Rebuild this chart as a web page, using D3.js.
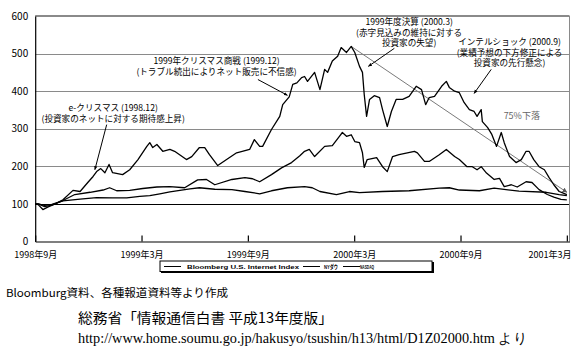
<!DOCTYPE html>
<html><head><meta charset="utf-8">
<script src="https://cdn.jsdelivr.net/npm/d3@7"></script>
<style>
html,body{margin:0;padding:0;background:#fff;}
svg{display:block;font-family:"Noto Sans CJK JP","Noto Sans",sans-serif;}
</style></head>
<body>
<svg id="chart" width="586" height="355"></svg>
<script>
// ---- data ----
const seriesNames = ["Bloomberg U.S. Internet Index", "NYダウ", "NASDAQ"];
const xTickLabels = ["1998年9月","1999年3月","1999年9月","2000年3月","2000年9月","2001年3月"];
const yTicks = [0,100,200,300,400,500,600];

const internetIndex = [
 ["1998-09-01",100],["1998-09-06",98],["1998-09-14",85],["1998-09-23",92],["1998-10-05",100],["1998-10-18",111],
 ["1998-11-05",136],["1998-11-17",133],["1998-11-30",157],["1998-12-09",173],["1998-12-15",186],["1998-12-22",194],
 ["1998-12-29",183],["1999-01-06",205],["1999-01-12",183],["1999-01-29",178],["1999-02-11",191],["1999-02-25",218],
 ["1999-03-10",253],["1999-03-15",263],["1999-03-20",250],["1999-03-27",258],["1999-04-07",240],["1999-04-19",245],
 ["1999-04-27",240],["1999-05-17",218],["1999-05-26",226],["1999-06-09",250],["1999-06-18",250],["1999-06-26",231],
 ["1999-07-10",202],["1999-07-25",218],["1999-08-12",236],["1999-09-04",245],["1999-09-12",271],["1999-09-21",253],
 ["1999-09-26",253],["1999-10-11",298],["1999-10-25",333],["1999-10-30",364],["1999-11-11",385],["1999-11-17",418],
 ["1999-11-24",422],["1999-12-02",436],["1999-12-07",439],["1999-12-12",426],["1999-12-24",450],["2000-01-03",404],
 ["2000-01-11",458],["2000-01-16",450],["2000-01-24",480],["2000-02-03",493],["2000-02-09",516],["2000-02-18",503],
 ["2000-02-26",519],["2000-03-02",503],["2000-03-10",466],["2000-03-15",450],["2000-03-18",391],["2000-03-22",333],
 ["2000-03-27",378],["2000-04-05",388],["2000-04-14",383],["2000-04-19",351],["2000-04-27",306],["2000-05-04",346],
 ["2000-05-12",378],["2000-05-23",378],["2000-06-04",386],["2000-06-16",413],["2000-06-25",404],["2000-07-02",364],
 ["2000-07-08",383],["2000-07-17",386],["2000-07-29",413],["2000-08-07",426],["2000-08-12",410],["2000-08-21",400],
 ["2000-08-29",396],["2000-09-07",370],["2000-09-16",351],["2000-09-24",346],["2000-09-29",333],["2000-10-06",351],
 ["2000-10-08",319],["2000-10-17",303],["2000-10-24",285],["2000-11-02",253],["2000-11-10",290],["2000-11-15",263],
 ["2000-11-24",226],["2000-12-05",210],["2000-12-14",218],["2000-12-22",240],["2000-12-27",240],["2001-01-05",218],
 ["2001-01-14",199],["2001-01-23",191],["2001-02-01",170],["2001-02-09",151],["2001-02-18",133],["2001-02-23",130],
 ["2001-03-01",125]
];

const nyDow = [
 ["1998-09-01",100],["1998-09-06",100],["1998-09-17",96],["1998-09-29",99],["1998-10-18",108],["1998-11-17",113],
 ["1998-12-15",117],["1999-01-12",116],["1999-02-06",116],["1999-02-28",120],["1999-03-15",122],["1999-04-02",127],
 ["1999-04-19",132],["1999-05-06",136],["1999-05-23",140],["1999-06-09",143],["1999-07-05",139],["1999-08-04",138],
 ["1999-08-26",133],["1999-09-21",127],["1999-10-11",135],["1999-11-08",143],["1999-12-07",146],["1999-12-20",143],
 ["2000-01-03",133],["2000-02-01",125],["2000-02-23",133],["2000-03-10",130],["2000-04-19",133],["2000-06-04",135],
 ["2000-07-25",142],["2000-08-12",143],["2000-08-29",137],["2000-10-03",135],["2000-10-28",142],["2000-12-10",134],
 ["2001-01-26",131],["2001-02-18",125],["2001-03-01",122]
];

const nasdaq = [
 ["1998-09-01",100],["1998-09-06",100],["1998-09-17",93],["1998-09-29",97],["1998-10-18",109],["1998-11-08",125],
 ["1998-12-04",131],["1998-12-26",137],["1999-01-07",143],["1999-01-19",135],["1999-02-11",136],["1999-03-03",141],
 ["1999-03-27",145],["1999-04-19",146],["1999-05-14",143],["1999-06-06",164],["1999-06-21",165],["1999-07-05",151],
 ["1999-08-04",165],["1999-08-26",170],["1999-09-09",167],["1999-09-21",159],["1999-10-11",178],["1999-10-28",196],
 ["1999-11-15",210],["1999-11-29",228],["1999-12-07",240],["1999-12-15",245],["1999-12-24",226],["2000-01-11",253],
 ["2000-01-24",255],["2000-02-06",280],["2000-02-11",290],["2000-02-18",280],["2000-02-26",284],["2000-03-02",266],
 ["2000-03-10",263],["2000-03-15",236],["2000-03-18",197],["2000-03-23",218],["2000-04-09",223],["2000-04-19",199],
 ["2000-04-27",186],["2000-05-06",226],["2000-05-17",231],["2000-06-13",240],["2000-06-18",236],["2000-06-30",213],
 ["2000-07-08",213],["2000-07-25",231],["2000-08-07",245],["2000-08-21",226],["2000-08-29",218],["2000-09-12",199],
 ["2000-09-21",199],["2000-09-29",191],["2000-10-06",199],["2000-10-15",182],["2000-10-28",165],["2000-11-07",168],
 ["2000-11-15",146],["2000-11-27",151],["2000-12-07",145],["2000-12-22",159],["2001-01-02",157],["2001-01-14",138],
 ["2001-01-28",125],["2001-02-09",118],["2001-02-21",112],["2001-03-01",111]
];

// 75% decline trend (peak -> end)
const trendLine = [["2000-02-26",519],["2001-03-01",131]];

// annotations: text anchor (date,value) + arrow (from -> to)
const annotations = [
 {at:["1999-01-13",346], lines:["e-クリスマス (1998.12)","(投資家のネットに対する期待感上昇)"],
  from:["1999-01-02",311], to:["1998-12-12",191]},
 {at:["1999-07-08",471], lines:["1999年クリスマス商戦 (1999.12)","(トラブル続出によりネット販売に不信感)"],
  from:["1999-09-18",431], to:["1999-11-08",389]},
 {at:["2000-06-04",576], lines:["1999年度決算 (2000.3)","(赤字見込みの維持に対する","投資家の失望)"],
  from:["2000-05-09",514], to:["2000-03-25",466]},
 {at:["2000-11-24",522], lines:["インテルショック (2000.9)","(業績予想の下方修正による","投資家の先行懸念)"],
  from:["2000-10-23",458], to:["2000-09-24",394]}
];
const declineLabel = {at:["2000-11-14",327], text:"75%下落"};

// ---- helpers ----
function monthIndex(s){
  const [yy,mm,dd] = s.split("-").map(Number);
  return (yy-1998)*12 + (mm-9) + (dd-1)/30;
}

const svg = d3.select("#chart");
const x = d3.scaleLinear().domain([0,30.15]).range([35.2,569.5]);
const y = d3.scaleLinear().domain([0,600]).range([241.5,16]);
const X = d => x(monthIndex(d[0]));
const Y = d => y(d[1]);

// gridlines
const gridVals = [100,200,300,400,500];
svg.append("g").selectAll("line").data(gridVals).join("line")
  .attr("x1",x(0)).attr("x2",x.range()[1])
  .attr("y1",d=>Math.round(y(d))+0.5).attr("y2",d=>Math.round(y(d))+0.5)
  .attr("stroke",d=>d===100?"#000":"#8a8a8a").attr("stroke-width",1);
// top frame (600) and right border
svg.append("line").attr("x1",x(0)).attr("x2",x.range()[1]).attr("y1",y(600)).attr("y2",y(600))
  .attr("stroke","#8a8a8a").attr("stroke-width",2);
svg.append("line").attr("x1",x.range()[1]).attr("x2",x.range()[1]).attr("y1",y(600)).attr("y2",y(0))
  .attr("stroke","#8a8a8a").attr("stroke-width",1);

// y axis
const yAxis = d3.axisLeft(y).tickValues(yTicks).tickSize(0).tickPadding(7);
const gy = svg.append("g").attr("transform",`translate(${x(0)},0)`).call(yAxis);
gy.select(".domain").attr("stroke","#000").attr("stroke-width",1.2);
gy.selectAll("text").attr("font-size",10).attr("fill","#000")
  .style("font-family","'Noto Sans CJK JP',sans-serif");

// x axis
const xAxis = d3.axisBottom(x).tickValues([0,6,12,18,24,30])
  .tickFormat((d,i)=>xTickLabels[i]).tickSize(-6).tickPadding(12).tickSizeOuter(0);
const gx = svg.append("g").attr("transform",`translate(0,${y(0)})`).call(xAxis);
gx.select(".domain").attr("stroke","#000").attr("stroke-width",1.2);
gx.selectAll(".tick line").attr("stroke","#000").attr("stroke-width",1.2);
gx.selectAll("text").attr("font-size",9).attr("fill","#000").attr("dy","0.5em")
  .style("font-family","'Noto Sans CJK JP',sans-serif")
  .each(function(d,i){
    if(i===xTickLabels.length-1){ d3.select(this).attr("text-anchor","end").attr("x",571-x(d)); }
  });

// trend line with gray arrow
svg.append("defs").html(`
 <marker id="garrow" viewBox="0 0 10 10" refX="9" refY="5" markerWidth="5" markerHeight="5" orient="auto">
   <path d="M0,0 L10,5 L0,10 z" fill="#5a5a5a"/></marker>
 <marker id="barrow" viewBox="0 0 10 10" refX="9" refY="5" markerWidth="4" markerHeight="4" orient="auto">
   <path d="M0,1 L10,5 L0,9 z" fill="#000"/></marker>`);
svg.append("line")
  .attr("x1",X(trendLine[0])).attr("y1",Y(trendLine[0]))
  .attr("x2",X(trendLine[1])).attr("y2",Y(trendLine[1]))
  .attr("stroke","#7a7a7a").attr("stroke-width",1)
  .attr("marker-end","url(#garrow)");

// series lines
const line = d3.line().x(X).y(Y);
[internetIndex, nyDow, nasdaq].forEach(s=>{
  svg.append("path").datum(s).attr("d",line)
    .attr("fill","none").attr("stroke","#000").attr("stroke-width",1.3)
    .attr("stroke-linejoin","round");
});

// annotations
annotations.forEach(a=>{
  const t = svg.append("text").attr("x",X(a.at)).attr("y",Y(a.at))
    .attr("text-anchor","middle").attr("font-size",8.6).attr("fill","#000");
  a.lines.forEach((l,i)=>t.append("tspan").attr("x",X(a.at)).attr("dy",i===0?0:10.5).text(l));
  svg.append("line").attr("x1",X(a.from)).attr("y1",Y(a.from))
    .attr("x2",X(a.to)).attr("y2",Y(a.to))
    .attr("stroke","#000").attr("stroke-width",1).attr("marker-end","url(#barrow)");
});
svg.append("text").attr("x",X(declineLabel.at)).attr("y",Y(declineLabel.at))
  .attr("font-size",9).attr("fill","#666").text(declineLabel.text);

// legend
const lg = svg.append("g");
lg.append("rect").attr("x",161).attr("y",262).attr("width",273).attr("height",11)
  .attr("fill","#000");
lg.append("rect").attr("x",160).attr("y",261).attr("width",272).attr("height",10.5)
  .attr("fill","#fff").attr("stroke","#000").attr("stroke-width",1);
const legendItems = [
  {name:seriesNames[0], lx:164, tx:187, tw:112},
  {name:seriesNames[1], lx:303, tx:324, tw:14},
  {name:seriesNames[2], lx:343, tx:360, tw:14}
];
legendItems.forEach(it=>{
  lg.append("line").attr("x1",it.lx).attr("x2",it.lx+17).attr("y1",266.5).attr("y2",266.5)
    .attr("stroke","#000").attr("stroke-width",1);
  lg.append("text").attr("x",it.tx).attr("y",268.8).attr("font-size",6).attr("font-weight","bold")
    .attr("textLength",it.tw).attr("lengthAdjust","spacingAndGlyphs")
    .style("font-family","'Liberation Sans','Noto Sans CJK JP',sans-serif").text(it.name);
});

// source notes
svg.append("text").attr("x",6).attr("y",297).attr("font-size",11).attr("fill","#000")
  .attr("textLength",222).attr("lengthAdjust","spacingAndGlyphs")
  .text("Bloomburg資料、各種報道資料等より作成");
svg.append("text").attr("x",78).attr("y",323).attr("font-size",14).attr("fill","#000")
  .attr("textLength",255).attr("lengthAdjust","spacingAndGlyphs")
  .text("総務省「情報通信白書 平成13年度版」");
svg.append("text").attr("x",78).attr("y",343).attr("font-size",14).attr("fill","#000")
  .attr("textLength",449).attr("lengthAdjust","spacingAndGlyphs")
  .style("font-family","'Liberation Serif','DejaVu Serif',serif")
  .text("http://www.home.soumu.go.jp/hakusyo/tsushin/h13/html/D1Z02000.htm より");
</script>
</body></html>
